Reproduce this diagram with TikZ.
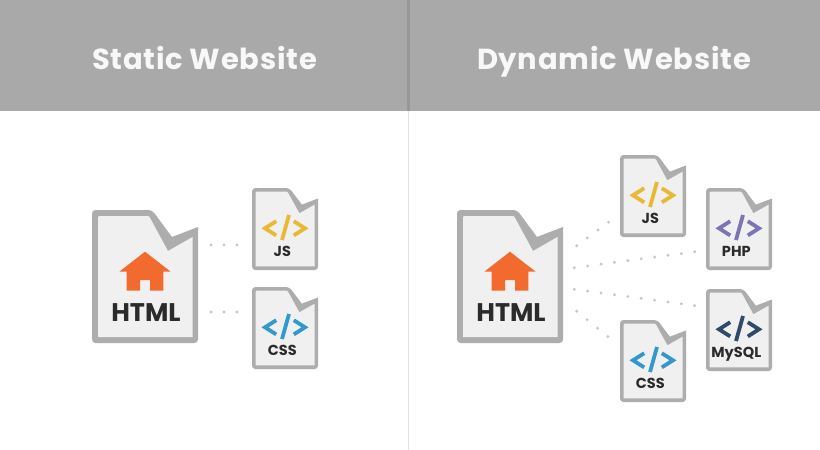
\documentclass[tikz,border=0pt]{standalone}
\usepackage{fontspec}
\newfontfamily\headfont[LetterSpace=2.6]{Poppins}
\newfontfamily\labelfont{Poppins}
\definecolor{band}{HTML}{A9A9A9}
\definecolor{bandline}{HTML}{979797}
\definecolor{paper}{HTML}{F0F0F0}
\definecolor{rim}{HTML}{ADADAD}
\definecolor{ink}{HTML}{2B2B2B}
\definecolor{house}{HTML}{F26A2E}
\definecolor{cjs}{HTML}{E8B931}
\definecolor{ccss}{HTML}{3399CC}
\definecolor{cphp}{HTML}{7B74B5}
\definecolor{csql}{HTML}{2F4A6B}
\tikzset{
  headtext/.style={text=white!92!band,font=\headfont\bfseries\fontsize{29}{32}\selectfont,anchor=base,inner sep=0pt},
  filelabel/.style={text=ink,font=\labelfont\bfseries\fontsize{14.5}{16}\selectfont,anchor=base,inner sep=0pt},
  biglabel/.style={text=ink,font=\labelfont\bfseries\fontsize{25.5}{28}\selectfont,anchor=base,inner sep=0pt},
  dotline/.style={draw=rim!70!white,line width=3.2pt,line cap=round,dash pattern=on 0pt off #1},
  codemark/.style={line width=3.8pt,miter limit=10},
}
% file sheet, drawn in a 106 x 133 box
\newcommand{\sheet}{%
  \fill[rim] (0,133) [rounded corners=3.5pt] -- (0,0) -- (60,0) [sharp corners] -- (80,27) -- (106,17) [rounded corners=3.5pt] -- (106,133) -- cycle;
  \fill[paper] (6,127) [rounded corners=1pt] -- (6,6) -- (57,6) [sharp corners] -- (76,41) -- (100.5,27) -- (100.5,127) -- cycle;
}
\newcommand{\bigfile}[3]{% name, x, y
  \begin{scope}[shift={(#2,#3)}]
    \sheet
    \fill[house] (53,41.7) -- (78.7,61.7) -- (71.3,61.7) -- (71.3,80.7) -- (58,80.7) -- (58,70) -- (48,70) -- (48,80.7) -- (34.7,80.7) -- (34.7,61.7) -- (27.3,61.7) -- cycle;
    \node[biglabel] (#1) at (54,111.5) {HTML};
  \end{scope}
}
\newcommand{\smallfile}[5]{% name, x, y, colour, label
  \begin{scope}[shift={(#2,#3)}]
    \begin{scope}[xscale=.623,yscale=.617]\sheet\end{scope}
    \draw[codemark,draw=#4] (24.2,33.2) -- (13,40.3) -- (24.2,47.4);
    \draw[codemark,draw=#4] (37,27) -- (30,52);
    \draw[codemark,draw=#4] (41.8,33.2) -- (53,40.3) -- (41.8,47.4);
    \node[filelabel] (#1) at (30.3,68.5) {#5};
  \end{scope}
}
\begin{document}
\begin{tikzpicture}[x=1pt,y=-1pt]
  \useasboundingbox (0,0) rectangle (820,450);
  \fill[white] (0,0) rectangle (820,450);
  \fill[band] (0,0) rectangle (820,111);
  \fill[bandline] (407,0) rectangle (410,111);
  \fill[white!88!black] (408,111) rectangle (409,450);
  \node[headtext] (stat) at (204.5,69) {Static Website};
  \node[headtext] (dyn) at (614,69) {Dynamic Website};

  \bigfile{lhtml}{92}{210}
  \smallfile{ljs}{252}{188}{cjs}{JS}
  \smallfile{lcss}{252}{287}{ccss}{CSS}

  \bigfile{rhtml}{457}{210}
  \smallfile{rjs}{620}{155}{cjs}{JS}
  \smallfile{rphp}{706}{188}{cphp}{PHP}
  \smallfile{rsql}{706}{289}{csql}{MySQL}
  \smallfile{rcss}{620}{320}{ccss}{CSS}

  \coordinate (a1) at (211,245); \coordinate (a2) at (237.5,245);
  \coordinate (b1) at (211,312); \coordinate (b2) at (237.5,312);
  \coordinate (c1) at (576.7,245.7); \coordinate (c2) at (609,221.8);
  \coordinate (d1) at (574.3,267.7); \coordinate (d2) at (695.2,251.7);
  \coordinate (e1) at (574.3,289.3); \coordinate (e2) at (695.2,305.7);
  \coordinate (f1) at (576.7,311.3); \coordinate (f2) at (608.3,336.9);
  \draw[dotline=13pt] (a1) -- (a2);
  \draw[dotline=13pt] (b1) -- (b2);
  \draw[dotline=13.2pt] (c1) -- (c2);
  \draw[dotline=13.5pt] (d1) -- (d2);
  \draw[dotline=13.5pt] (e1) -- (e2);
  \draw[dotline=13.4pt] (f1) -- (f2);
\end{tikzpicture}
\end{document}
